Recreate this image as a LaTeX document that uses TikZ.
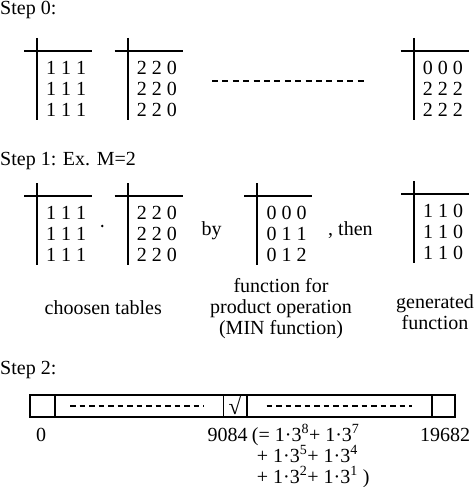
\documentclass[tikz,border=0pt]{standalone}
\usepackage{fontspec}
\setmainfont{Liberation Serif}
\usetikzlibrary{positioning}

\begin{document}
\begin{tikzpicture}[x=1pt,y=-1pt]
            \tikzset{
                lbl/.style={inner sep=0pt,font=\fontsize{20}{21}\selectfont},
                cell/.style={draw,line width=1.6pt,minimum height=21.7pt,inner sep=0pt,outer sep=0pt,anchor=north west},
                dashline/.style={line width=1.5pt,dash pattern=on 5.5pt off 4pt},}
            \def\ftable#1(#2,#3)#4{%
                \draw [line width=1.8pt](#2,#3-13) -- (#2,#3+69) (#2-13,#3) -- (#2+55,#3);
                \node [lbl,anchor=west,align=left] (#1) at (#2+9,#3+37.5) {#4};}
            \useasboundingbox (0,0) rectangle (474,487);
            % step 0
            \node [lbl,anchor=base west] (s0) at (0,15) {Step 0:};
            \ftable{a1}(37,51){1 1 1\\1 1 1\\1 1 1}
            \ftable{a2}(127.7,51){2 2 0\\2 2 0\\2 2 0}
            \ftable{a3}(413.7,51){0 0 0\\2 2 2\\2 2 2}
            \draw [dashline,dash pattern=on 6pt off 4.4pt](212,81) -- (367,81);
            % step 1
            \node [lbl,anchor=base west] (s1) at (0,165) {Step 1: Ex. M=2};
            \ftable{b1}(37,196){1 1 1\\1 1 1\\1 1 1}
            \fill (102.3,226) circle(1.4pt);
            \ftable{b2}(127.7,196){2 2 0\\2 2 0\\2 2 0}
            \node [lbl,anchor=base west] (by) at (201.5,235) {by};
            \ftable{b3}(257.3,196){0 0 0\\0 1 1\\0 1 2}
            \node [lbl,anchor=base west] (then) at (328,235) {, then};
            \ftable{b4}(414,194){1 1 0\\1 1 0\\1 1 0}
            \node [lbl] (cap1) at (103.3,307.5) {choosen tables};
            \node [lbl,align=center] (cap2) at (281,308.5) {function for\\product operation\\(MIN function)};
            \node [lbl,align=center] (cap3) at (435,312) {generated\\function};
            % step 2
            \node [lbl,anchor=base west] (s2) at (0,374) {Step 2:};
            \node [cell,minimum width=25pt] (c0) at (30,395) {};
            \node [cell,minimum width=168.3pt] (c1) at (c0.north east) {};
            \node [cell,minimum width=23.4pt,font=\fontsize{23}{23}\selectfont] (c2) at (c1.north east) {√};
            \node [cell,minimum width=185pt] (c3) at (c2.north east) {};
            \node [cell,minimum width=23.3pt] (c4) at (c3.north east) {};
            \draw [dashline]([xshift=15pt]c1.west) -- ([xshift=-20pt]c1.east);
            \draw [dashline]([xshift=20pt]c3.west) -- ([xshift=-20pt]c3.east);
            \node [lbl,anchor=base] (n0) at (41,441) {0};
            \node [lbl,anchor=base] (n1) at (227.5,441) {9084};
            % base of a multi-line node is its last line
            \node [lbl,anchor=base west,align=left] (sum) at (251.7,483) {(= 1·3\textsuperscript{8}+ 1·3\textsuperscript{7}\\
                \hspace*{5pt}+ 1·3\textsuperscript{5}+ 1·3\textsuperscript{4}\\
                \hspace*{5pt}+ 1·3\textsuperscript{2}+ 1·3\textsuperscript{1} )};
            \node [lbl,anchor=base] (n2) at (445,441) {19682};
        \end{tikzpicture}
\end{document}
